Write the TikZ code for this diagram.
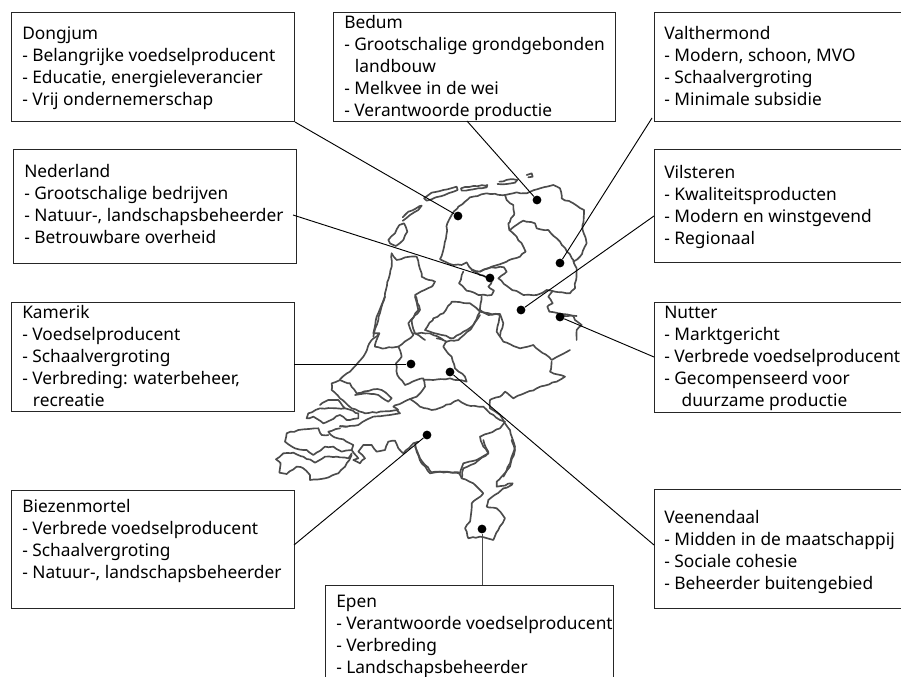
\documentclass[tikz,border=0pt]{standalone}
\usepackage{fontspec}
\usetikzlibrary{decorations.pathmorphing}
\setmainfont{Noto Sans}
\tikzset{
  box/.style={draw=black!85,line width=.8pt,fill=white,anchor=north west,inner sep=0pt,rectangle},
  lbl/.style={anchor=north west,inner sep=0pt,align=left,text=black,font=\fontsize{13}{16.5}\selectfont},
  dot/.style={circle,fill=black,inner sep=0pt,minimum size=6.6pt},
  conn/.style={black,line width=.7pt},
  mapl/.style={draw=black!70,line width=1.25pt,line join=round,line cap=round,
    decorate,decoration={random steps,segment length=3pt,amplitude=.5pt}},
}
\pgfmathsetseed{11}
\newcommand{\mapcurve}[1]{\draw[mapl] plot coordinates {#1};}
\begin{document}
\begin{tikzpicture}[x=.75pt,y=-.75pt]
\clip (0,0) rectangle (901,677);
\fill[white] (0,0) rectangle (901,677);
% map, north part (zoom coordinates, 3x)
\begin{scope}[shift={(360,160)},scale=1/3]
\mapcurve{(192,115)(215,98)(250,90)(290,80)(293,90)(265,100)(225,113)(200,122)(192,115)}
\mapcurve{(303,85)(340,78)(382,75)(380,82)(340,88)(305,92)(303,85)}
\mapcurve{(418,65)(450,58)(472,60)(465,68)(440,72)(420,72)(418,65)}
\mapcurve{(500,45)(515,40)(518,50)(505,52)}
\mapcurve{(128,172)(145,155)(185,137)(175,150)(150,165)(135,177)(128,172)}
\mapcurve{(118,195)(132,190)(142,215)(130,240)(108,258)(90,250)(85,240)(105,220)(118,195)}
% Friesland
\mapcurve{(240,298)(250,270)(258,235)(262,190)(275,165)(295,140)(330,112)(380,100)(435,105)(440,120)(460,135)(462,165)(445,190)(448,210)(470,230)(490,260)(497,275)(480,290)(440,305)(395,320)(360,335)(335,328)(320,307)(305,315)(280,315)(255,305)(240,298)}
% Groningen
\mapcurve{(435,105)(470,97)(500,100)(540,85)(580,75)(600,85)(605,115)(640,130)(672,150)(668,210)(680,250)(660,290)(640,305)}
\mapcurve{(450,210)(490,182)(525,190)(530,205)(565,210)(600,245)(640,300)(650,325)(645,385)(630,400)(585,395)(560,390)(530,405)(490,405)(450,385)(415,355)(440,335)(432,322)(395,322)(360,335)}
% Noordoostpolder
\mapcurve{(310,335)(297,370)(320,392)(360,405)(395,405)(402,392)(385,380)(395,365)(389,354)(360,345)(335,330)}
% east
\mapcurve{(578,393)(565,410)(578,430)(562,440)(568,455)(600,462)(640,468)(645,480)(665,495)(650,510)(650,540)}
\mapcurve{(610,468)(645,468)(645,463)}
\mapcurve{(365,408)(360,450)(385,465)(420,462)(430,490)(420,530)}
% Noord-Holland north
\mapcurve{(95,280)(95,320)(75,400)(55,480)(40,530)}
\mapcurve{(95,280)(110,300)(150,290)(170,290)(185,340)(185,350)(225,365)(215,380)(165,405)(180,450)(155,480)(165,520)(195,540)}
\end{scope}
% map, middle part
\begin{scope}[shift={(270,300)},scale=1/3]
\mapcurve{(345,-10)(320,50)(310,100)(328,100)(305,120)(280,170)(240,215)(210,238)}
\mapcurve{(328,100)(315,140)(345,145)(385,140)(430,105)(415,70)(445,30)(435,-10)}
\mapcurve{(545,5)(600,10)(630,35)(610,75)(580,95)(550,115)(515,105)(465,90)(490,55)(520,40)(545,5)}
\mapcurve{(630,45)(600,90)(565,120)(530,125)(500,115)}
\mapcurve{(430,100)(480,100)(520,120)}
\mapcurve{(385,140)(395,170)(378,190)(382,225)(405,255)(440,240)(460,235)(465,260)(440,290)(420,297)}
\mapcurve{(460,240)(490,240)(540,235)(590,245)(585,230)(555,205)(545,170)(520,140)(530,125)}
\mapcurve{(420,297)(450,320)(485,330)(520,320)(565,300)(590,315)(640,320)(660,340)(690,360)(705,365)(690,385)(630,410)(640,440)(655,460)(620,480)(580,490)(570,520)(520,515)(480,520)(455,490)(440,455)(435,430)}
\mapcurve{(630,35)(690,45)(680,95)(700,125)(750,145)(790,135)(845,180)(900,150)}
\mapcurve{(845,185)(840,215)(885,230)(860,245)(800,265)(730,295)(705,275)(690,290)(660,300)(660,325)(690,345)(720,390)(735,440)(720,490)(700,530)}
\mapcurve{(210,240)(185,250)(185,270)(210,295)(245,325)(285,340)(380,330)(390,340)(310,350)(265,375)(210,380)}
\mapcurve{(210,240)(240,250)(260,280)(310,268)(335,270)(365,295)(355,305)(325,285)(290,280)(255,285)}
\mapcurve{(420,297)(370,320)(385,330)}
\mapcurve{(150,315)(175,300)(205,300)(225,325)(265,340)(265,355)(230,360)(210,345)(160,370)(130,350)(110,355)(115,340)(150,325)(200,325)(225,325)}
\end{scope}
% map, Zeeland
\begin{scope}[shift={(270,400)},scale=1/3]
\mapcurve{(18,178)(40,160)(70,158)(100,170)(135,188)(165,170)(200,170)(235,175)(245,160)}
\mapcurve{(18,178)(32,190)(28,218)(50,222)(80,200)(100,205)(120,225)(120,240)(165,235)(205,220)(225,200)(245,165)}
\mapcurve{(145,85)(85,90)(50,100)(45,125)(75,145)(110,150)(130,165)(165,140)(190,140)(215,155)(245,150)(250,135)(220,118)(190,110)(175,95)(210,85)}
\mapcurve{(145,85)(155,105)(175,105)}
\mapcurve{(210,78)(232,80)}
\mapcurve{(245,150)(265,175)(250,180)(270,190)(285,175)(265,155)(280,135)(305,135)(320,155)(345,150)(355,125)(375,122)(385,145)(400,160)(430,130)(445,125)}
\end{scope}
% map, south part
\begin{scope}[shift={(320,440)},scale=1/3]
\mapcurve{(285,20)(300,55)(335,97)(415,97)(425,115)(460,130)(490,160)(455,190)(450,245)(435,265)(445,295)(480,290)(520,300)(535,270)(555,235)(530,205)(500,200)(505,180)(550,145)(575,135)(578,130)(530,140)(530,125)(570,80)(585,30)(575,0)}
\mapcurve{(490,0)(505,40)(465,70)(430,85)(425,115)}
\end{scope}
% boxes
\node[box,minimum width=212.25pt,minimum height=81.75pt] (Dongjum) at (11,12) {};
\node[box,minimum width=212.25pt,minimum height=85.5pt] (Nederland) at (13,149) {};
\node[box,minimum width=211.5pt,minimum height=81.75pt] (Bedum) at (333,12) {};
\node[box,minimum width=225pt,minimum height=81.75pt] (Valthermond) at (654,12) {};
\node[box,minimum width=225pt,minimum height=84.75pt] (Vilsteren) at (654,149) {};
\node[box,minimum width=225pt,minimum height=82.5pt] (Nutter) at (654,302) {};
\node[box,minimum width=225pt,minimum height=89.25pt] (Veenendaal) at (654,489) {};
\node[box,minimum width=212.25pt,minimum height=81.75pt] (Kamerik) at (11,302) {};
\node[box,minimum width=212.25pt,minimum height=88.5pt] (Biezenmortel) at (11,490) {};
\node[box,minimum width=216pt,minimum height=90pt] (Epen) at (325,585) {};
% texts
\node[lbl] (tDongjum) at (22,23.6) {\strut Dongjum\\- Belangrijke voedselproducent\\- Educatie, energieleverancier\\- Vrij ondernemerschap};
\node[lbl] (tNederland) at (24,161.6) {\strut Nederland\\- Grootschalige bedrijven\\- Natuur-, landschapsbeheerder\\- Betrouwbare overheid};
\node[lbl] (tBedum) at (344,12.6) {\strut Bedum\\- Grootschalige grondgebonden\\\hspace*{8pt}landbouw\\- Melkvee in de wei\\- Verantwoorde productie};
\node[lbl] (tValthermond) at (664,23.6) {\strut Valthermond\\- Modern, schoon, MVO\\- Schaalvergroting\\- Minimale subsidie};
\node[lbl] (tVilsteren) at (664,162.6) {\strut Vilsteren\\- Kwaliteitsproducten\\- Modern en winstgevend\\- Regionaal};
\node[lbl] (tNutter) at (664,302.6) {\strut Nutter\\- Marktgericht\\- Verbrede voedselproducent\\- Gecompenseerd voor\\\hspace*{13pt}duurzame productie};
\node[lbl] (tVeenendaal) at (664,507.6) {\strut Veenendaal\\- Midden in de maatschappij\\- Sociale cohesie\\- Beheerder buitengebied};
\node[lbl] (tKamerik) at (22,302.6) {\strut Kamerik\\- Voedselproducent\\- Schaalvergroting\\- Verbreding: waterbeheer,\\\hspace*{8pt}recreatie};
\node[lbl] (tBiezenmortel) at (22,496.6) {\strut Biezenmortel\\- Verbrede voedselproducent\\- Schaalvergroting\\- Natuur-, landschapsbeheerder};
\node[lbl] (tEpen) at (336,591.6) {\strut Epen\\- Verantwoorde voedselproducent\\- Verbreding\\- Landschapsbeheerder};
% dots
\node[dot] (dDongjum) at (458,216) {};
\node[dot] (dBedum) at (537,200) {};
\node[dot] (dValthermond) at (560,263) {};
\node[dot] (dVilsteren) at (521,310) {};
\node[dot] (dNederland) at (490,278) {};
\node[dot] (dNutter) at (560,317) {};
\node[dot] (dKamerik) at (411,364) {};
\node[dot] (dVeenendaal) at (450,372) {};
\node[dot] (dBiezenmortel) at (427,435) {};
\node[dot] (dEpen) at (482,529) {};
% connector ends
\coordinate (cBedum) at (467,121);
\coordinate (cValthermond) at (652,118);
\coordinate (cVilsteren) at (654,216);
\coordinate (cNederland) at (293,215);
\coordinate (cNutter) at (654,357);
\coordinate (cKamerik) at (294,364);
\coordinate (cVeenendaal) at (654,545);
\coordinate (cBiezenmortel) at (294,545);
\coordinate (cEpen) at (482,585);
\draw[conn] (Dongjum.south east) -- (dDongjum);
\draw[conn] (cBedum) -- (dBedum);
\draw[conn] (cValthermond) -- (dValthermond);
\draw[conn] (cVilsteren) -- (dVilsteren);
\draw[conn] (cNederland) -- (dNederland);
\draw[conn] (cNutter) -- (dNutter);
\draw[conn] (cKamerik) -- (dKamerik);
\draw[conn] (cVeenendaal) -- (dVeenendaal);
\draw[conn] (cBiezenmortel) -- (dBiezenmortel);
\draw[conn,black!70] (cEpen) -- (dEpen);
\end{tikzpicture}
\end{document}
